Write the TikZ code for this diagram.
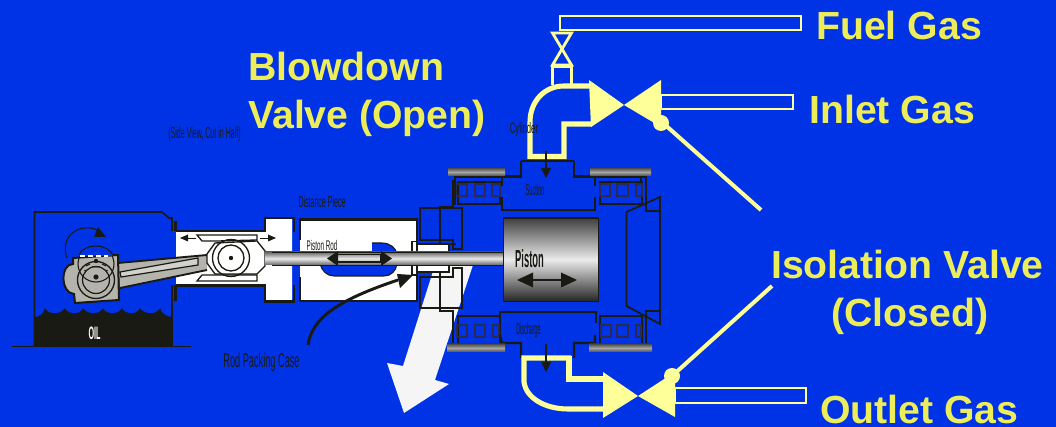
\documentclass[tikz,border=0pt]{standalone}
\usepackage{fontspec}
\setmainfont{Liberation Sans}
\usetikzlibrary{calc}
\definecolor{bg}{HTML}{0033E6}
\definecolor{pipe}{HTML}{FFFF99}
\definecolor{lbl}{HTML}{EDED5A}
\definecolor{dk}{HTML}{1A1A14}
\definecolor{edge}{HTML}{2A2A50}
\definecolor{crank}{HTML}{B4B4AC}
\newcommand{\nar}[2][0.46]{\scalebox{#1}[1]{#2}}
\tikzset{
  x=0.75pt,y=-0.75pt,
  biglabel/.style={text=lbl,font=\fontsize{29.4}{31}\selectfont\bfseries,anchor=base west,inner sep=0pt},
  tiny/.style={text=dk,font=\fontsize{12}{13}\selectfont,anchor=center,inner sep=0pt},
  heavy/.style={draw=dk,line width=1.6pt,line cap=butt},
  mid line/.style={draw=dk,line width=0.9pt},
  pipeline/.style={draw=pipe,line width=3.8pt,line join=miter},
  pipethin/.style={draw=pipe,line width=2.1pt,line join=miter},
  bar/.style={top color=black!70,bottom color=black!70,middle color=gray!70},
  rodshade/.style={top color=black!60,bottom color=black!60,middle color=white!92!black},
}
\begin{document}
\begin{tikzpicture}
\useasboundingbox (0,0) rectangle (1056,427);
\fill[bg] (0,0) rectangle (1056,427);

% --- blowdown arrow
\fill[white!96!black] (435,265) -- (473,265) -- (435,380) -- (449,384) -- (404,413) -- (387,363) -- (403,366) -- cycle;

% --- crankcase
\fill[dk] (35,346) -- (35,317) .. controls (40,317) and (44,313) .. (45,308)
  .. controls (47,314) and (60,316) .. (65,308)
  .. controls (67,314) and (80,316) .. (83,308)
  .. controls (86,314) and (99,316) .. (103,308)
  .. controls (105,314) and (118,316) .. (122,308)
  .. controls (124,314) and (137,316) .. (140,308)
  .. controls (143,314) and (156,316) .. (160,308)
  .. controls (161,313) and (166,317) .. (172,317) -- (172,346) -- cycle;
\draw[dk,line width=1.2pt] (172,231) -- (172,218) -- (169,218) -- (162,212) -- (34.5,212) -- (34.5,346);
\draw[heavy] (172,218) -- (172,231);
\draw[heavy] (175.5,221) -- (175.5,231);
\draw[heavy] (172,285) -- (172,346);
\draw[heavy] (175.5,285) -- (175.5,301);
\draw[dk,line width=1.3pt] (12,346.5) -- (191,346.5);
\node[text=white,font=\fontsize{13.5}{14}\selectfont\bfseries,inner sep=0pt] (oil) at (94.5,333) {\nar[0.4]{OIL}};

% --- crosshead guide
\fill[white] (176,232) -- (265,232) -- (265,219) -- (292,219) -- (292,301) -- (265,301) -- (265,285) -- (176,285) -- cycle;
\draw[heavy] (176,231) -- (265,231) -- (265,218) -- (294,218) -- (294,232);
\draw[heavy] (176,285.5) -- (265,285.5) -- (265,301.5) -- (294,301.5) -- (294,285);
% distance piece
\fill[white] (300,220) rectangle (416,300);
\draw[heavy] (300,240) -- (300,219.5) -- (417,219.5) -- (417,301) -- (300,301) -- (300,277);
% blue window
\fill[bg] (372,243) -- (382,243) .. controls (390,243) and (396,248) .. (397,254)
  -- (397,264) .. controls (396,271) and (391,276) .. (384,276) -- (334,276)
  .. controls (327,276) and (322,271) .. (320,264) -- (320,252) -- (372,252) -- cycle;
\draw[dk,line width=0.8pt] (372,243) -- (382,243) .. controls (390,243) and (396,248) .. (397,254)
  -- (397,264) .. controls (396,271) and (391,276) .. (384,276) -- (334,276)
  .. controls (327,276) and (322,271) .. (320,264);
% packing
\fill[white] (417,244) rectangle (449,272);
\draw[dk,line width=0.8pt] (417,244) -- (449,244) -- (449,272) -- (417,272);
\fill[white] (412,241.5) rectangle (417,275);
\draw[dk,line width=0.8pt] (412,241.5) rectangle (417,275);

% --- small arrows in guide
\fill[dk] (180,238) -- (188,234.5) -- (188,241.5) -- cycle;
\draw[dk,line width=.7pt] (188,238) -- (196,238);
\fill[dk] (276,238) -- (268,234.5) -- (268,241.5) -- cycle;
\draw[dk,line width=.7pt] (260,238) -- (268,238);

% --- connecting rod & crank
\fill[crank] (118,263) -- (207,255) -- (207,270) -- (120,288) -- cycle;
\draw[dk,line width=1.4pt] (118,263) -- (207,255);
\draw[dk,line width=1.4pt] (207,270) -- (120,288);
\fill[crank!60!white,draw=dk,line width=.9pt] (120,272) -- (198,258) -- (198,265) -- (121,277) -- cycle;
\fill[crank,draw=dk,line width=1.5pt] (73,258) -- (118,255) -- (119,300) -- (75,303) -- (74,294)
  .. controls (60,293) and (60,264) .. (73,264) -- cycle;
\draw[dk,line width=.8pt] (96,264) circle (18);
\draw[dk,line width=1pt] (96,280) circle (18.5);
\draw[dk,line width=.9pt] (96,280) circle (13.5);
\fill[bg] (78,246) .. controls (84,243) and (108,243) .. (113,256) -- (78,256) -- cycle;
\draw[dk,line width=.8pt] (79,255) .. controls (84,243) and (107,243) .. (113,255);
\draw[white,line width=1.2pt,dash pattern=on 4pt off 2pt] (80,256) -- (108,256);
\fill[dk] (96,277) circle (2.6);
\fill[dk] (96,261) circle (2.2);
\draw[dk,line width=.7pt] (86,266) -- (90,264) (102,264) -- (106,266) (92,267) -- (100,267) (84,271) -- (87,270) (105,270) -- (108,271);
% rotation arrow
\draw[dk,line width=.8pt] (67,258) .. controls (59,236) and (80,221) .. (100,231);
\fill[dk] (106,237) -- (94,237) -- (98,227) -- cycle;

% --- crosshead
\fill[white,draw=dk,line width=1pt] (197,235) -- (257,235) -- (257,240) -- (218,241) -- (202,241) -- cycle;
\fill[white,draw=dk,line width=1pt] (197,281) -- (202,275) -- (218,275) -- (257,275) -- (257,281) -- cycle;
\fill[white,draw=dk,line width=1pt] (207,254) -- (215,243) -- (257,241) -- (265,251) -- (265,266) -- (257,274) -- (215,274) -- (207,263) -- cycle;
\draw[dk,line width=1pt] (231,258) circle (18.5);
\draw[dk,line width=1pt] (231,258) circle (13);
\fill[dk] (231,258) circle (2.2);
\shade[rodshade] (265,252) -- (272,252) -- (272,265) -- (265,265) -- cycle;
% piston rod
\shade[rodshade] (272,252) rectangle (503,265);
\draw[dk,line width=.6pt] (272,252) -- (503,252) (272,265) -- (503,265);
% rod double arrow
\draw[dk,line width=.9pt] (337,254.5) rectangle (381,262);
\fill[dk] (327,258.5) -- (338,251) -- (338,266) -- cycle;
\fill[dk] (392,258.5) -- (381,251) -- (381,266) -- cycle;

% --- packing case
\draw[heavy,line join=miter] (420,240) -- (420,208) -- (462,208) -- (462,249) -- (453,249) -- (453,240) -- cycle;
\draw[heavy,line join=miter] (420,277) -- (420,308) -- (462,308) -- (462,268) -- (453,268) -- (453,277) -- cycle;
\draw[dk,line width=.9pt] (440,243) -- (440,207) -- (453,207) -- (453,180);
\draw[dk,line width=.9pt] (440,272) -- (440,311) -- (453,311) -- (453,345);
\draw[dk,line width=.9pt] (449,244) -- (456,244);

% --- rod packing arrow
\draw[dk,line width=2.2pt] (308,345) .. controls (312,318) and (338,300) .. (398,280);
\fill[dk] (413,275) -- (397,274) -- (400,288) -- cycle;

% --- piston
\shade[top color=black!75,bottom color=black!85,middle color=white!92!black] (503,218) rectangle (598,301);
\draw[dk,line width=1.4pt] (503,218) -- (598,218);
\draw[dk,line width=.7pt] (503,218) rectangle (598,301);
\node[text=dk,font=\fontsize{18.5}{19}\selectfont\bfseries,inner sep=0pt] (pistonlabel) at (529.5,259) {\nar[0.38]{Piston}};
\draw[dk,line width=1.2pt] (530,280) -- (565,280);
\fill[dk] (517,280) -- (533,272.5) -- (533,287.5) -- cycle;
\fill[dk] (577,280) -- (561,272.5) -- (561,287.5) -- cycle;

% --- head
\draw[dk,line width=1.3pt,line join=miter] (660,197) -- (626.5,212) -- (626.5,306) -- (660,324) -- cycle;
\draw[mid line] (646,176) -- (646,211) -- (660,211);
\draw[mid line] (646,344) -- (646,311) -- (660,311);

% --- valve cages
\foreach \xa/\xb/\ya/\yb in {458/500/182/204,600/642/182/204,458/500/316/344,600/642/316/344}{
  \draw[dk,line width=.9pt] (\xa,\ya) rectangle (\xb,\yb);
}
\foreach \xa/\xb/\sy in {456/467/184,475/485/184,492/500/184,600/610/184,617/628/184,636/642/184,
  457/467/325,475/485/325,493/499/325,601/611/325,617/628/325,636/641/325}{
  \draw[edge,line width=.9pt] (\xa,\sy) rectangle (\xb,\sy+12);
}
\draw[mid line] (455,176) -- (455,205);
\draw[mid line] (641,176) -- (641,182);
\draw[mid line] (449,344) -- (503,344);
\draw[mid line] (592,344) -- (646,344);

% --- suction / discharge
\draw[heavy,line join=miter] (455,176.5) -- (521,176.5) -- (521,161) (574,161) -- (574,176.5) -- (646,176.5);
\draw[dk,line width=1pt] (521,161) -- (574,161);
\draw[heavy] (502,176) -- (502,186) (502,197) -- (502,210) -- (595,210) -- (595,197) (595,176) -- (595,186);
\draw[heavy] (500,323) -- (500,312) -- (596,312) -- (596,323);
\draw[heavy,line join=miter] (500,335) -- (502,343) -- (521,343) -- (521,358) (574,358) -- (574,343) -- (595,343) -- (595,335);
\shade[bar] (448,168) rectangle (505,176);
\shade[bar] (590,168) rectangle (651,176);
\shade[bar] (447,344) rectangle (505,352);
\shade[bar] (589,344) rectangle (652,352);
\node[tiny,text=dk] (suction) at (535,190) {\nar[0.35]{Suction}};
\node[tiny,text=dk] (discharge) at (528.5,330) {\nar[0.34]{Discharge}};

% --- yellow pipework
\draw[pipethin] (560,16) rectangle (801,30);
\draw[pipethin] (552.5,33) -- (571.5,33) -- (552.5,65) -- (571.5,65) -- cycle;
\draw[pipethin] (552.5,85) -- (552.5,67) -- (571.5,67) -- (571.5,85);
\draw[pipeline] (592,86) -- (564,86) .. controls (544,86) and (530,102) .. (530,122) -- (530,156.5) -- (564,156.5) -- (564,124) -- (592,124);
\fill[pipe] (589,80) -- (624,105) -- (661,80) -- (661,127) -- (624,105) -- (591,127) -- cycle;
\draw[pipethin] (661,95) rectangle (793,109);
\fill[pipe] (661,123) circle (8);
\draw[pipe,line width=3pt] (663,123) -- (761,210);

\draw[pipeline] (571,358) -- (524,358) -- (524,382) .. controls (526,398) and (545,409) .. (568,409) -- (603,409);
\draw[pipeline] (569,356) -- (569,379) -- (604,379);
\fill[pipe] (603,372) -- (638,396) -- (675,372) -- (675,417) -- (638,396) -- (603,418) -- cycle;
\draw[pipethin] (675,388) rectangle (806,403);
\fill[pipe] (672,376) circle (8);
\draw[pipe,line width=3pt] (672,376) -- (772,286);

% --- small arrows into cylinder
\draw[dk,line width=.9pt] (546,151) -- (546,170);
\fill[dk] (546,178) -- (541,168) -- (551,168) -- cycle;
\draw[dk,line width=.9pt] (546,344) -- (546,364);
\fill[dk] (546,372) -- (541,362) -- (551,362) -- cycle;

% --- small labels
\node[tiny] (sideview) at (204.5,134) {\nar[0.44]{(Side View, Cut in Half)}};
\node[tiny] (distance) at (322,202) {\nar[0.44]{Distance Piece}};
\node[tiny,font=\fontsize{10.5}{11}\selectfont] (rodlabel) at (322,245) {\nar[0.45]{Piston Rod}};
\node[tiny,font=\fontsize{11.5}{12}\selectfont] (cylinder) at (524,130) {\nar[0.5]{Cylinder}};
\node[tiny,font=\fontsize{15}{16}\selectfont] (packing) at (261.5,362) {\nar[0.46]{Rod Packing Case}};

% --- large labels
\node[biglabel] (fuel) at (816,40) {Fuel Gas};
\node[biglabel] (blow) at (248,81) {Blowdown};
\node[biglabel] (valve) at (248,129) {Valve (Open)};
\node[biglabel] (inlet) at (809,124) {Inlet Gas};
\node[biglabel] (iso) at (771,279) {Isolation Valve};
\node[biglabel] (closed) at (831,327) {(Closed)};
\node[biglabel] (outlet) at (820,423) {Outlet Gas};
\end{tikzpicture}
\end{document}
